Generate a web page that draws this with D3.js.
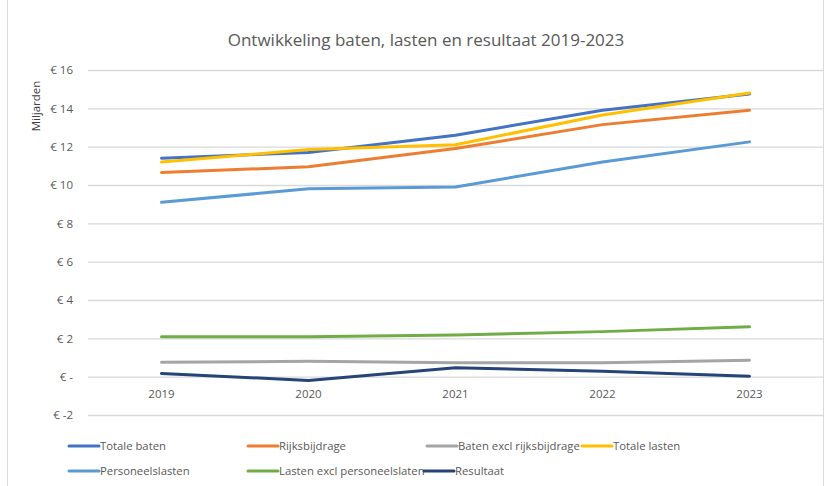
<!DOCTYPE html>
<html>
<head>
<meta charset="utf-8">
<script src="https://cdn.jsdelivr.net/npm/d3@7/dist/d3.min.js"></script>
<style>
  html, body { margin: 0; padding: 0; background: #fff; }
  svg { display: block; }
  text { font-family: "Open Sans", "Liberation Sans", sans-serif; fill: #595959; }
</style>
</head>
<body>
<svg id="chart" width="829" height="486"></svg>
<script>
// Years on the category axis
const years = ["2019", "2020", "2021", "2022", "2023"];

// Series values, in billions of euros
const totaleBaten        = [11.4, 11.7, 12.6, 13.9, 14.75];
const rijksbijdrage      = [10.65, 10.95, 11.9, 13.15, 13.9];
const batenExclRijks     = [0.75, 0.8, 0.72, 0.72, 0.86];
const totaleLasten       = [11.2, 11.85, 12.1, 13.65, 14.8];
const personeelslasten   = [9.1, 9.8, 9.9, 11.2, 12.25];
const lastenExclPersoneel = [2.08, 2.08, 2.17, 2.35, 2.6];
const resultaat          = [0.17, -0.2, 0.47, 0.28, 0.02];

// Y tick values
const yTicks = [-2, 0, 2, 4, 6, 8, 10, 12, 14, 16];

const seriesNames = [
  "Totale baten", "Rijksbijdrage", "Baten excl rijksbijdrage", "Totale lasten",
  "Personeelslasten", "Lasten excl personeelslaten", "Resultaat"
];
const seriesValues = [
  totaleBaten, rijksbijdrage, batenExclRijks, totaleLasten,
  personeelslasten, lastenExclPersoneel, resultaat
];
const seriesColors = ["#4472C4", "#ED7D31", "#A5A5A5", "#FFC000", "#5B9BD5", "#70AD47", "#264478"];

const svg = d3.select("#chart");

// Chart frame edges
svg.append("line").attr("x1", 7.5).attr("x2", 7.5).attr("y1", 0).attr("y2", 486)
  .attr("stroke", "#d9d9d9").attr("stroke-width", 1);
svg.append("line").attr("x1", 823.5).attr("x2", 823.5).attr("y1", 0).attr("y2", 486)
  .attr("stroke", "#d9d9d9").attr("stroke-width", 1);

const plot = { left: 88, right: 823, top: 70, bottom: 415 };

const x = d3.scaleBand().domain(years).range([plot.left, plot.right]);
const y = d3.scaleLinear().domain([-2, 16]).range([plot.bottom, plot.top]);
const cx = d => x(d) + x.bandwidth() / 2;

// Title
svg.append("text")
  .attr("x", 426).attr("y", 46)
  .attr("text-anchor", "middle")
  .style("font-size", "17px")
  .style("fill", "#595959")
  .text("Ontwikkeling baten, lasten en resultaat 2019-2023");

// Horizontal gridlines and value labels
const yAxis = d3.axisLeft(y)
  .tickValues(yTicks)
  .tickSize(-(plot.right - plot.left))
  .tickPadding(15)
  .tickFormat(v => v === 0 ? "€ -" : "€ " + v);

const gy = svg.append("g")
  .attr("transform", `translate(${plot.left},0)`)
  .call(yAxis);
gy.select(".domain").remove();
gy.selectAll(".tick line").attr("stroke", "#d9d9d9").attr("stroke-width", 1.3);
gy.selectAll(".tick text")
  .style("font-size", "11.5px")
  .style("fill", "#595959");

// Axis title
svg.append("text")
  .attr("transform", "translate(40,106) rotate(-90)")
  .attr("text-anchor", "middle")
  .style("font-size", "11.5px")
  .style("fill", "#404040")
  .text("Miljarden");

// Category labels
const xAxis = d3.axisBottom(x).tickSize(0).tickPadding(0);
const gx = svg.append("g")
  .attr("transform", `translate(0,${y(0) + 13})`)
  .call(xAxis);
gx.select(".domain").remove();
gx.selectAll(".tick text")
  .style("font-size", "11.5px")
  .style("fill", "#595959");

// Series lines
const line = d3.line()
  .x((d, i) => cx(years[i]))
  .y(d => y(d));

seriesValues.forEach((vals, k) => {
  svg.append("path")
    .datum(vals)
    .attr("d", line)
    .attr("fill", "none")
    .attr("stroke", seriesColors[k])
    .attr("stroke-width", 3)
    .attr("stroke-linejoin", "round")
    .attr("stroke-linecap", "round");
});

// Legend
const legendPos = [
  [69, 446], [248, 446], [427, 446], [582, 446],
  [69, 471], [248, 471], [424, 471]
];
const legend = svg.append("g");
seriesNames.forEach((name, k) => {
  const [lx, ly] = legendPos[k];
  const g = legend.append("g").attr("transform", `translate(${lx},${ly})`);
  g.append("line")
    .attr("x1", 0).attr("x2", 30).attr("y1", 0).attr("y2", 0)
    .attr("stroke", seriesColors[k])
    .attr("stroke-width", 3)
    .attr("stroke-linecap", "round");
  g.append("text")
    .attr("x", 31).attr("y", 4)
    .style("font-size", "11.3px")
    .style("fill", "#595959")
    .text(name);
});
</script>
</body>
</html>
